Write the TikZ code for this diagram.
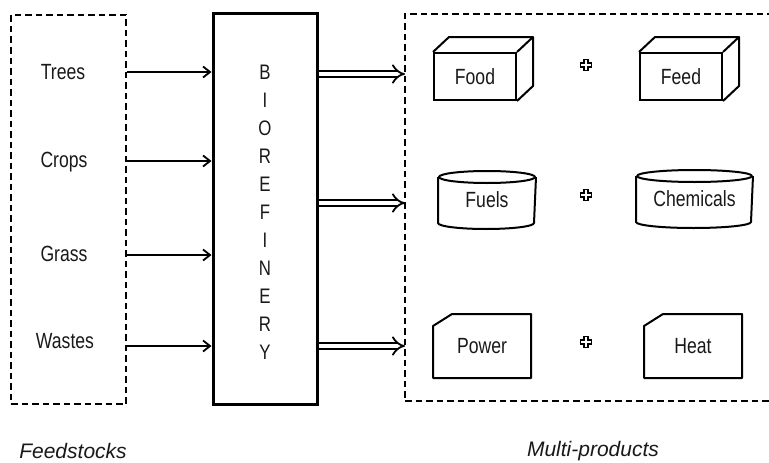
\documentclass[tikz,border=0pt]{standalone}
\usepackage{fontspec}
\setmainfont{Liberation Sans}
\newfontfamily\narrowsf{Liberation Sans}[FakeStretch=0.8]
\usetikzlibrary{arrows.meta,calc}

\begin{document}
\begin{tikzpicture}[x=1pt,y=-1pt,
  lbl/.style={font=\narrowsf\fontsize{22}{26}\selectfont, text=black!90, inner sep=0pt,
              text height=15.5pt, text depth=0pt},
  captionlbl/.style={font=\itshape\fontsize{21}{24}\selectfont, text=black!90, inner sep=0pt},
  dashbox/.style={draw, line width=2.5pt, dash pattern=on 6.5pt off 4pt, inner sep=0pt},
  solidbox/.style={draw, line width=3pt, inner sep=0pt},
  prod/.style={lbl, line width=2pt},
  shp/.style={line width=2pt, line join=round},
  arr/.style={line width=1.8pt, -{Straight Barb[length=7pt, width=11pt, line width=1.8pt]}},
  dbl/.style={double, line width=1.8pt, double distance=4.8pt, -{Implies}},
  plusmark/.style={line width=1.7pt, line join=miter}
]
\useasboundingbox (0,0) rectangle (769,463);

% three main blocks
\node[dashbox, minimum width=115pt, minimum height=389pt] (feedbox) at (68.5,209.5) {};
\node[solidbox, minimum width=104pt, minimum height=391pt] (bio) at (265,208.5) {};
\node[dashbox, minimum width=395pt, minimum height=387pt] (prodbox) at (602.5,207.5) {};

\node[font=\narrowsf\fontsize{21}{28}\selectfont, text=black!90, align=center] (word) at (265,212)
  {B\\I\\O\\R\\E\\F\\I\\N\\E\\R\\Y};

% feedstocks
\node[lbl] (trees)  at (63,72)  {Trees};
\node[lbl] (crops)  at (64,160) {Crops};
\node[lbl] (grass)  at (64,254) {Grass};
\node[lbl] (wastes) at (65,341) {Wastes};

\draw[arr] (feedbox.east |- trees) -- (bio.west |- trees);
\draw[arr] ($(feedbox.east |- crops)+(0,1)$) -- ($(bio.west |- crops)+(0,1)$);
\draw[arr] ($(feedbox.east |- grass)+(0,1)$) -- ($(bio.west |- grass)+(0,1)$);
\draw[arr] ($(feedbox.east |- wastes)+(0,5)$) -- ($(bio.west |- wastes)+(0,5)$);

% outputs
\coordinate (o1) at (405,74);
\coordinate (o2) at (405,203);
\coordinate (o3) at (405,346);
\draw[dbl] (bio.east |- o1) -- (o1);
\draw[dbl] (bio.east |- o2) -- (o2);
\draw[dbl] (bio.east |- o3) -- (o3);

% boxes: food and feed
\node[prod, draw, minimum width=82pt, minimum height=47pt] (food) at (475,76.5) {Food};
\node[prod, draw, minimum width=82pt, minimum height=47pt] (feed) at (681,76.5) {Feed};
\foreach \b in {food,feed}{
  \draw[shp]
    (\b.north west) -- ++(16,-15) -- ($(\b.north east)+(16,-15)$)
    -- ($(\b.south east)+(16,-15)$) -- (\b.south east);
  \draw[shp] (\b.north east) -- ++(16,-15);
}

% cylinders: fuels and chemicals
\node[prod, minimum width=96pt, minimum height=56pt] (fuels) at (487,200) {Fuels};
\node[prod, minimum width=115pt, minimum height=56pt] (chem) at (694.5,199) {Chemicals};
\draw[shp] ($(fuels.north)+(0,6)$) ellipse [x radius=48pt, y radius=6pt];
\draw[shp] ($(fuels.north west)+(0,6)$) -- ($(fuels.south west)+(0,-6)$)
  arc[start angle=180, end angle=360, x radius=48pt, y radius=6pt] -- ($(fuels.north east)+(0,6)$);
\draw[shp] ($(chem.north)+(0,6)$) ellipse [x radius=57.5pt, y radius=6pt];
\draw[shp] ($(chem.north west)+(0,6)$) -- ($(chem.south west)+(0,-6)$)
  arc[start angle=180, end angle=360, x radius=57.5pt, y radius=6pt] -- ($(chem.north east)+(0,6)$);

% cut-corner cards: power and heat
\node[prod, minimum width=96pt, minimum height=62pt] (power) at (482,346) {Power};
\node[prod, minimum width=96pt, minimum height=62pt] (heat) at (693,346) {Heat};
\foreach \b in {power,heat}{
  \draw[shp]
    ($(\b.north west)+(0,12)$) -- ($(\b.north west)+(19,0)$) -- (\b.north east)
    -- (\b.south east) -- (\b.south west) -- cycle;
}

% outlined plus signs between each pair of products
\coordinate (p1) at (586,65);
\coordinate (p2) at (586,195);
\coordinate (p3) at (586,342);
\foreach \p in {p1,p2,p3}{
  \draw[plusmark] ($(\p)+(-2,-5.6)$) -- ++(4,0) -- ++(0,3.6) -- ++(3.6,0) -- ++(0,4)
    -- ++(-3.6,0) -- ++(0,3.6) -- ++(-4,0) -- ++(0,-3.6) -- ++(-3.6,0) -- ++(0,-4)
    -- ++(3.6,0) -- cycle;
}

% captions
\node[captionlbl] (fs) at (73,451)  {Feedstocks};
\node[captionlbl] (mp) at (593,451) {Multi-products};
\end{tikzpicture}
\end{document}
